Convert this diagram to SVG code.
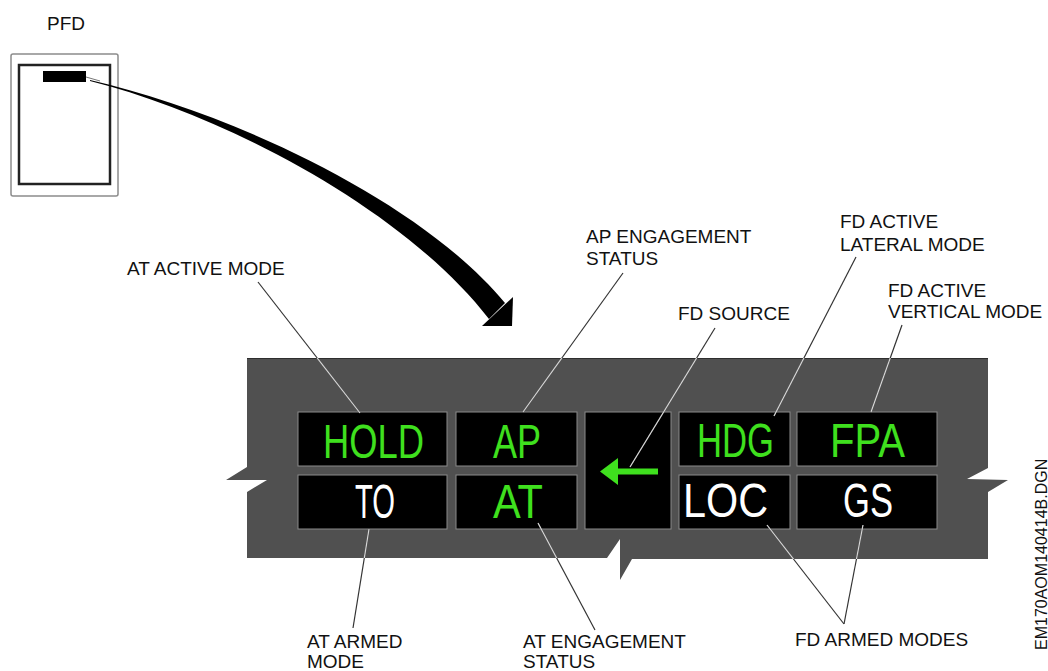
<svg xmlns="http://www.w3.org/2000/svg" width="1048" height="671" viewBox="0 0 1048 671">
<style>
.lbl{font-family:"Liberation Sans",Arial,sans-serif;font-size:19px;fill:#111}
.cell{fill:#000;stroke:#8a8a8a;stroke-width:1}
.disp{font-family:"Liberation Sans",Arial,sans-serif;font-size:48px}
.g{fill:#3fe01e}
.w{fill:#fff}
.ld{stroke:#333;stroke-width:1.2;fill:none}
.ll{stroke:#d8d8d8;stroke-width:1.2;fill:none}
</style>
<defs>
<clipPath id="panelClip">
<polygon points="247,358 988,358 988,468 967,479 1008,480 988,492 988,559 632,559 620,580 620,539 607,558 247,558 247,492 267,480 226,480 247,467"/>
</clipPath>
</defs>
<rect width="1048" height="671" fill="#fff"/>

<g id="pfd">
<text class="lbl" x="47" y="30">PFD</text>
<rect x="11" y="54" width="107" height="142" rx="2" fill="#fff" stroke="#8c8c8c" stroke-width="1.5"/>
<rect x="19" y="65" width="91" height="119" fill="#fff" stroke="#222" stroke-width="2.5"/>
<rect x="43" y="71" width="43" height="11" fill="#000"/>
</g>

<g id="panel">
<polygon points="247,358 988,358 988,468 967,479 1008,480 988,492 988,559 632,559 620,580 620,539 607,558 247,558 247,492 267,480 226,480 247,467" fill="#505050"/>
<line x1="247" y1="358.5" x2="988" y2="358.5" stroke="#2e2e2e" stroke-width="1.2"/>
</g>

<g id="cell-hold"><rect class="cell" x="298" y="412" width="149" height="54"/><text class="disp g" x="323" y="458" textLength="101" lengthAdjust="spacingAndGlyphs">HOLD</text></g>
<g id="cell-to"><rect class="cell" x="298" y="475" width="149" height="54"/><text class="disp w" x="355" y="518" textLength="40" lengthAdjust="spacingAndGlyphs">TO</text></g>
<g id="cell-ap"><rect class="cell" x="456" y="412" width="121" height="54"/><text class="disp g" x="493" y="458" textLength="48" lengthAdjust="spacingAndGlyphs">AP</text></g>
<g id="cell-at"><rect class="cell" x="456" y="475" width="121" height="54"/><text class="disp g" x="493" y="518" textLength="50" lengthAdjust="spacingAndGlyphs">AT</text></g>
<g id="cell-fdsource"><rect class="cell" x="585" y="412" width="86" height="117"/>
<polygon class="g" points="600,471.5 618,458 618,468.5 658,468.5 658,474.5 618,474.5 618,485"/></g>
<g id="cell-hdg"><rect class="cell" x="679" y="412" width="111" height="54"/><text class="disp g" x="697" y="457" textLength="77" lengthAdjust="spacingAndGlyphs">HDG</text></g>
<g id="cell-loc"><rect class="cell" x="679" y="475" width="111" height="54"/><text class="disp w" x="683" y="517" textLength="85" lengthAdjust="spacingAndGlyphs">LOC</text></g>
<g id="cell-fpa"><rect class="cell" x="797" y="412" width="140" height="54"/><text class="disp g" x="830" y="457" textLength="75" lengthAdjust="spacingAndGlyphs">FPA</text></g>
<g id="cell-gs"><rect class="cell" x="797" y="475" width="140" height="54"/><text class="disp w" x="843" y="517" textLength="50" lengthAdjust="spacingAndGlyphs">GS</text></g>

<g id="labels">
<text class="lbl" x="127" y="275">AT ACTIVE MODE</text>
<text class="lbl" x="586" y="243">AP ENGAGEMENT</text>
<text class="lbl" x="586" y="265">STATUS</text>
<text class="lbl" x="678" y="320">FD SOURCE</text>
<text class="lbl" x="840" y="228">FD ACTIVE</text>
<text class="lbl" x="840" y="251">LATERAL MODE</text>
<text class="lbl" x="888" y="297">FD ACTIVE</text>
<text class="lbl" x="888" y="318">VERTICAL MODE</text>
<text class="lbl" x="307" y="648">AT ARMED</text>
<text class="lbl" x="307" y="668">MODE</text>
<text class="lbl" x="523" y="648">AT ENGAGEMENT</text>
<text class="lbl" x="523" y="668">STATUS</text>
<text class="lbl" x="795" y="646">FD ARMED MODES</text>
<text class="lbl" transform="translate(1047,650) rotate(-90)" style="font-size:16px">EM170AOM140414B.DGN</text>
</g>

<g id="connectors">
<g id="pfd-arrow">
<line x1="86" y1="77" x2="100" y2="81" stroke="#777" stroke-width="1"/>
<path d="M90,80 C230,112 420,200 505,303 L489,319 C405,210 225,115 90,81 Z" fill="#000"/>
<polygon points="513,297 482,326 512,326" fill="#000"/>
</g>
<g id="leaders" class="ld">
<line x1="258" y1="282" x2="360" y2="413"/>
<line x1="623" y1="273" x2="523" y2="412"/>
<line x1="715" y1="328" x2="630" y2="467"/>
<line x1="856" y1="257" x2="774" y2="416"/>
<line x1="902" y1="325" x2="871" y2="412"/>
<line x1="369" y1="529" x2="353" y2="628"/>
<line x1="538" y1="523" x2="595" y2="630"/>
<line x1="767" y1="525" x2="844" y2="624"/>
<line x1="863" y1="525" x2="844" y2="624"/>
</g>
<g id="leaders-on-panel" class="ll" clip-path="url(#panelClip)">
<line x1="258" y1="282" x2="360" y2="413"/>
<line x1="623" y1="273" x2="523" y2="412"/>
<line x1="715" y1="328" x2="630" y2="467"/>
<line x1="856" y1="257" x2="774" y2="416"/>
<line x1="902" y1="325" x2="871" y2="412"/>
<line x1="369" y1="529" x2="353" y2="628"/>
<line x1="538" y1="523" x2="595" y2="630"/>
<line x1="767" y1="525" x2="844" y2="624"/>
<line x1="863" y1="525" x2="844" y2="624"/>
</g>
</g>
</svg>
